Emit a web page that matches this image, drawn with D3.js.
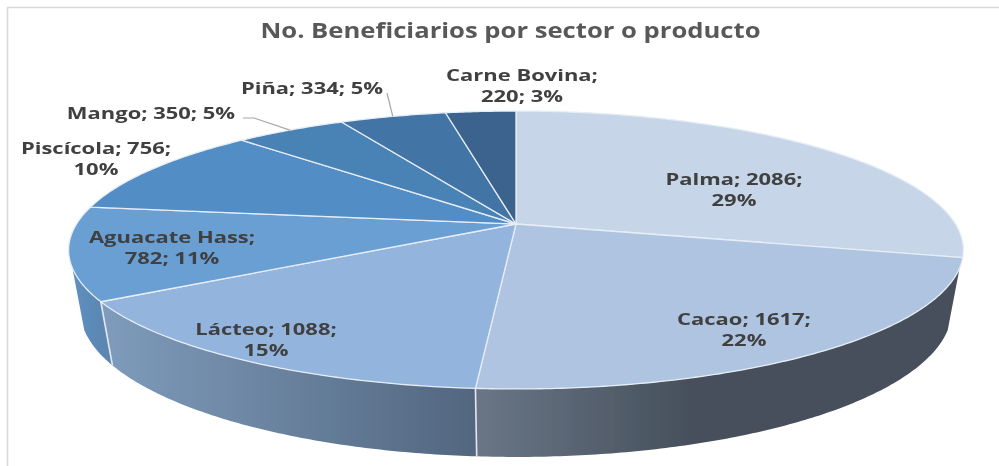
<!DOCTYPE html>
<html><head><meta charset="utf-8">
<script src="https://cdn.jsdelivr.net/npm/d3@7"></script>
<style>html,body{margin:0;padding:0;background:#fff}svg{display:block}</style>
</head><body><div id="c"></div>
<script>
const titleText = "No. Beneficiarios por sector o producto";
const categories = ["Palma","Cacao","Lácteo","Aguacate Hass","Piscícola","Mango","Piña","Carne Bovina"];
const values = [2086,1617,1088,782,756,350,334,220];
const lineBreaks = [2,2,2,1,2,3,3,1];
const topColors = ["#c6d5e8","#aec4e1","#93b4dc","#6a9fd4","#528dc6","#4a83b6","#4274a5","#3b648e"];
const wallFrom = ["#8a97a8","#6a7686","#7f9cbc","#5f90c0","#528dc6","#4a83b6","#4274a5","#3b648e"];
const wallTo   = ["#8a97a8","#46505c","#52667f","#5b87b3","#528dc6","#4a83b6","#4274a5","#3b648e"];
// label centre x, first-line centre y
const labelX = [734,744,266,172,96,151,312,522];
const labelY = [179,319,329,237,148,113,88,75];
const lineGap = 21;
const labelStretch = 1.33, titleStretch = 1.25;

const W=999,H=466, cx=516, apexY=224, a=439.5, b=134.1, k=-0.187;
const wallStart=108*Math.PI/180, wallEnd=252*Math.PI/180, vpY=2580;

function project(t){
  const x=Math.sin(t), y=-Math.cos(t), d=1+k*y;
  return [cx+a*x/d, apexY+b*y/d];
}
function lower(p){
  const depth=68-(389-p[1])*0.05;
  return [p[0]+(cx-p[0])*depth/(vpY-p[1]), p[1]+depth];
}
function arcPts(t0,t1){
  const n=Math.max(2,Math.ceil((t1-t0)/0.01));
  return d3.range(n+1).map(i=>project(t0+(t1-t0)*i/n));
}
const line=d3.line();
const svg=d3.select("#c").append("svg").attr("width",W).attr("height",H);
const defs=svg.append("defs");
defs.append("filter").attr("id","soft").attr("x","-5%").attr("y","-5%").attr("width","110%").attr("height","110%")
  .append("feGaussianBlur").attr("stdDeviation",0.45);
defs.append("filter").attr("id","softText").attr("x","-5%").attr("y","-5%").attr("width","110%").attr("height","110%")
  .append("feGaussianBlur").attr("stdDeviation",0.6);

svg.append("path").attr("d","M999,7.5H7.5V466").attr("fill","none").attr("stroke","#d9d9d9").attr("stroke-width",1.6);

const arcs=d3.pie().sort(null).value(d=>d)(values);
const g=svg.append("g").attr("filter","url(#soft)");

// walls
arcs.forEach((s,i)=>{
  const t0=Math.max(s.startAngle,wallStart), t1=Math.min(s.endAngle,wallEnd);
  if(t1<=t0) return;
  const up=arcPts(t0,t1), lo=up.map(lower).reverse();
  const xs=up.map(p=>p[0]);
  const id="wall"+i;
  const gr=defs.append("linearGradient").attr("id",id).attr("gradientUnits","userSpaceOnUse")
    .attr("x1",i===1?d3.min(xs)+215:d3.min(xs)).attr("x2",i===1?d3.min(xs):d3.max(xs)).attr("y1",0).attr("y2",0);
  if(i===1){
    gr.append("stop").attr("offset",0).attr("stop-color",wallTo[i]);
    gr.append("stop").attr("offset",1).attr("stop-color",wallFrom[i]);
  } else {
    gr.append("stop").attr("offset",0).attr("stop-color",wallFrom[i]);
    gr.append("stop").attr("offset",1).attr("stop-color",wallTo[i]);
  }
  g.append("path").attr("d",line(up.concat(lo))+"Z").attr("fill",`url(#${id})`);
});
// wall seams
arcs.forEach(s=>{
  const t=s.startAngle;
  if(t>wallStart && t<wallEnd){
    const p=project(t);
    g.append("path").attr("d",line([p,lower(p)])).attr("stroke","#e4e8ee").attr("stroke-width",1.6).attr("fill","none");
  }
});
// top
arcs.forEach((s,i)=>{
  const pts=[[cx,apexY]].concat(arcPts(s.startAngle,s.endAngle));
  g.append("path").attr("d",line(pts)+"Z").attr("fill",topColors[i])
    .attr("stroke","#e6edf5").attr("stroke-width",1.3).attr("stroke-linejoin","round");
});

// leaders
const leaderStarts={5:[[243,118],[254,118]],6:[[387,93]]};
Object.keys(leaderStarts).forEach(i=>{
  const s=arcs[i], e=project((s.startAngle+s.endAngle)/2);
  g.append("path").attr("d",line(leaderStarts[i].concat([e]))).attr("fill","none").attr("stroke","#a6a6a6").attr("stroke-width",1.2);
});

const pct=d3.format(".0%"), total=d3.sum(values);
const tg=svg.append("g").attr("filter","url(#softText)");
function put(sel,f){
  const n=sel.node();
  sel.attr("textLength",n.getComputedTextLength()*f).attr("lengthAdjust","spacingAndGlyphs");
}
tg.append("text").attr("x",510.5).attr("y",38).attr("text-anchor","middle")
  .attr("font-family","'Open Sans'").attr("font-weight",700).attr("font-size",20.5).attr("fill","#595959")
  .text(titleText).call(put,titleStretch);
categories.forEach((c,i)=>{
  const parts=[c+";",values[i]+";",pct(values[i]/total)];
  const br=lineBreaks[i];
  const lines=[parts.slice(0,br).join(" ")];
  if(br<3) lines.push(parts.slice(br).join(" "));
  lines.forEach((l,j)=>{
    tg.append("text").attr("x",labelX[i]).attr("y",labelY[i]+j*lineGap+6).attr("text-anchor","middle")
      .attr("font-family","'Open Sans'").attr("font-weight",700).attr("font-size",16.5).attr("fill","#404040")
      .text(l).call(put,labelStretch);
  });
});
</script></body></html>
